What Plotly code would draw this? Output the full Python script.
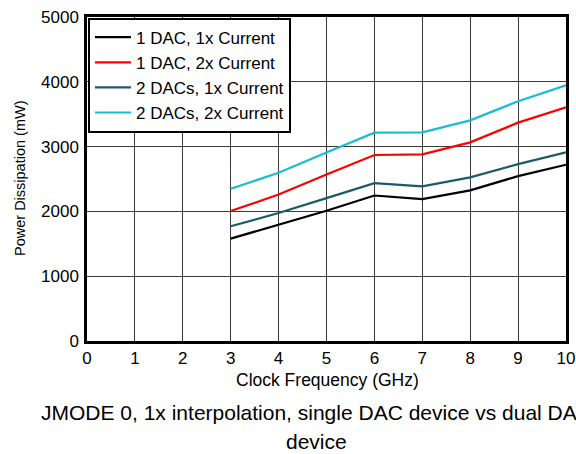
import plotly.graph_objects as go

freq = [3, 4, 5, 6, 7, 8, 9, 10]
dac1_1x = [1580, 1790, 2010, 2245, 2190, 2325, 2545, 2720]
dac1_2x = [2005, 2260, 2570, 2870, 2880, 3065, 3370, 3605]
dac2_1x = [1770, 1975, 2205, 2435, 2385, 2525, 2730, 2910]
dac2_2x = [2350, 2595, 2910, 3215, 3220, 3405, 3700, 3945]

names = ["1 DAC, 1x Current", "1 DAC, 2x Current", "2 DACs, 1x Current", "2 DACs, 2x Current"]
colors = ["#000000", "#ff0000", "#1b5a6c", "#19bdd3"]
series = [dac1_1x, dac1_2x, dac2_1x, dac2_2x]

caption_lines = ["JMODE 0, 1x interpolation, single DAC device vs dual DAC", "device"]

fig = go.Figure()
for n, c, s in zip(names, colors, series):
    fig.add_trace(go.Scatter(x=freq, y=s, mode="lines", name=n,
                             line=dict(color=c, width=2.2)))

W, H = 576, 454
L, R, T, B = 87, 10, 17, 113
font = "Liberation Sans, Arial, sans-serif"
PH = H - T - B

fig.update_layout(
    width=W, height=H,
    margin=dict(l=L, r=R, t=T, b=B, autoexpand=False),
    plot_bgcolor="white", paper_bgcolor="white",
    font=dict(family=font, size=16, color="black"),
    showlegend=True,
    legend=dict(x=0.002, y=0.998, xanchor="left", yanchor="top",
                bgcolor="white", bordercolor="black", borderwidth=2,
                font=dict(size=17), tracegroupgap=0, itemwidth=36),
    xaxis=dict(range=[0, 10], dtick=1, tick0=0, showgrid=True,
               gridcolor="#3a3a3a", gridwidth=1, showline=True,
               linecolor="black", linewidth=2.5, mirror=True, ticks="",
               zeroline=False, automargin=False,
               title=dict(text=""),
               tickfont=dict(size=17)),
    yaxis=dict(range=[0, 5000], dtick=1000, tick0=0, showgrid=True,
               gridcolor="#3a3a3a", gridwidth=1, showline=True,
               linecolor="black", linewidth=2.5, mirror=True, ticks="",
               zeroline=False, automargin=False, ticklabelstandoff=2,
               title=dict(text=""),
               tickfont=dict(size=17)),
)

def py(ypix):
    return (H - B - ypix) / PH

def px(xpix):
    return (xpix - L) / (W - L - R)

# axis titles
fig.add_annotation(text="Clock Frequency (GHz)", xref="paper", yref="paper",
                   x=px(327), y=py(380), xanchor="center", yanchor="middle",
                   showarrow=False, font=dict(size=17.5, family=font))
fig.add_annotation(text="Power Dissipation (mW)", xref="paper", yref="paper",
                   x=px(20), y=py(178), xanchor="center", yanchor="middle",
                   textangle=-90, showarrow=False, font=dict(size=14.5, family=font))

# caption (two lines)
for line, ypos in zip(caption_lines, [412, 441]):
    fig.add_annotation(
        text=line, xref="paper", yref="paper", x=px(316), y=py(ypos),
        xanchor="center", yanchor="middle", showarrow=False,
        font=dict(size=21, family=font), align="center",
    )

fig.write_html("out.html", config={"displayModeBar": False},
               post_script="document.body.style.margin='0';")
